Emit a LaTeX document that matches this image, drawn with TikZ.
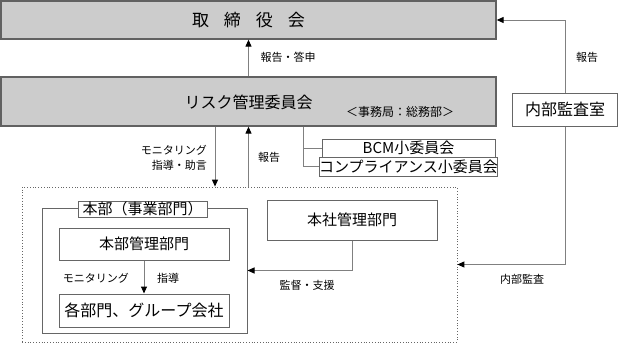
\documentclass[tikz,border=0pt]{standalone}
\usepackage{fontspec}
\setmainfont{Noto Sans CJK JP}
\usetikzlibrary{arrows.meta}
\begin{document}
\begin{tikzpicture}[x=1pt,y=-1pt,
 top/.style={draw=black!62,fill=black!20,line width=1.3pt,font=\fontsize{16}{18}\selectfont},
 unit/.style={draw=black!60,fill=white,line width=1pt,inner sep=0pt,font=\fontsize{15}{17}\selectfont},
 lab/.style={inner sep=0pt,font=\fontsize{11}{15}\selectfont},
 wire/.style={draw=black!50,line width=1pt},
 arr/.style={wire,-{Triangle[length=7pt,width=6pt,black]}}
]
 \useasboundingbox (0,0) rectangle (622,343);
 % upper level
 \node[top,minimum width=495pt,minimum height=38pt,font=\fontsize{17}{19}\selectfont] (board) at (248.5,20) {取\hspace{15pt}締\hspace{15pt}役\hspace{15pt}会};
 \node[top,minimum width=495pt,minimum height=49pt] (risk) at (248.5,101.5) {};
 \node[inner sep=0pt,font=\fontsize{16}{18}\selectfont] (riskname) at (248.5,102) {リスク管理委員会};
 \node[lab,font=\fontsize{12}{14}\selectfont] (office) at (400,112) {＜事務局：総務部＞};
 \node[unit,minimum width=105pt,minimum height=33pt,font=\fontsize{16}{18}\selectfont] (audit) at (565,109.5) {内部監査室};
 \node[unit,minimum width=173pt,minimum height=18.5pt] (bcm) at (408.5,148.25) {BCM小委員会};
 \node[unit,minimum width=173pt,minimum height=18.5pt] (comp) at (408.5,166.75) {コンプライアンス小委員会};
 % lower level
 \node[draw=black!60,dotted,line width=0.8pt,minimum width=435pt,minimum height=155pt] (area) at (239.5,264.5) {};
 \node[draw=black!60,line width=1pt,minimum width=205pt,minimum height=125pt] (outer) at (144.5,270.5) {};
 \node[unit,minimum width=129pt,minimum height=16pt] (title) at (142.5,209) {本部（事業部門）};
 \node[unit,minimum width=170pt,minimum height=32pt] (hq) at (144,244) {本部管理部門};
 \node[unit,minimum width=170pt,minimum height=33pt,font=\fontsize{16}{18}\selectfont] (each) at (144,310.5) {各部門、グループ会社};
 \node[unit,minimum width=170pt,minimum height=40pt] (honsha) at (352,220) {本社管理部門};
 % connectors
 \draw[arr] (risk.north) -- (board.south);
 \draw[arr] (audit.north) |- (board.east);
 \draw[arr] (audit.south) |- (area.east);
 \draw[wire] ([xshift=54.5pt]risk.south) |- (bcm.west);
 \draw[wire] ([xshift=54.5pt]risk.south) |- (comp.west);
 \draw[arr] ([xshift=-33.5pt]risk.south) -- ([xshift=-33.5pt]risk.south |- area.north);
 \draw[arr] (risk.south |- area.north) -- (risk.south);
 \draw[arr] (honsha.south) |- (outer.east);
 \draw[arr] (hq.south) -- (each.north);
 % labels
 \node[lab] (l1) at (288,57) {報告・答申};
 \node[lab] (l2) at (587,57) {報告};
 \node[lab,anchor=east,align=right] (l3) at (207,157.5) {モニタリング\\指導・助言};
 \node[lab] (l4) at (269,157) {報告};
 \node[lab] (l5) at (307,285) {監督・支援};
 \node[lab] (l6) at (522,279) {内部監査};
 \node[lab] (l7) at (96,278) {モニタリング};
 \node[lab] (l8) at (168,278) {指導};
\end{tikzpicture}
\end{document}
